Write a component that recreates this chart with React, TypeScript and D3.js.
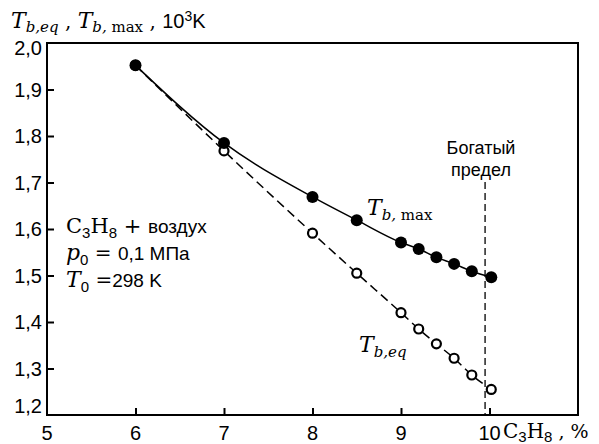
import { useEffect, useRef } from "react";
import * as d3 from "d3";

// data
const xPercent = [6, 7, 8, 8.5, 9, 9.2, 9.4, 9.6, 9.8, 10.02];
const tbMax = [1.952, 1.785, 1.669, 1.619, 1.571, 1.557, 1.539, 1.525, 1.509, 1.496];
const tbEq = [1.952, 1.768, 1.591, 1.505, 1.42, 1.385, 1.353, 1.322, 1.286, 1.255];
const xTicks = [5, 6, 7, 8, 9, 10];
const yTicks = [1.2, 1.3, 1.4, 1.5, 1.6, 1.7, 1.8, 1.9, 2.0];
const richLimit = 9.95;

const W = 599;
const H = 444;

type Part = [string, "s" | "r", "i" | "n", number, number];

function App() {
	const ref = useRef<SVGSVGElement>(null);

	useEffect(() => {
		const svg = d3.select(ref.current);
		svg.selectAll("*").remove();

		const margin = { top: 43, right: 21, bottom: 29, left: 47 };
		const x = d3.scaleLinear().domain([5, 11]).range([margin.left, W - margin.right]);
		const y = d3.scaleLinear().domain([1.2, 2.0]).range([H - margin.bottom, margin.top]);

		const sans = "'Liberation Sans', Arial, sans-serif";
		const serif = "'DejaVu Serif', 'Liberation Serif', serif";

		// frame
		svg
			.append("rect")
			.attr("x", x(5))
			.attr("y", y(2.0))
			.attr("width", x(11) - x(5))
			.attr("height", y(1.2) - y(2.0))
			.attr("fill", "none")
			.attr("stroke", "#000")
			.attr("stroke-width", 2);

		// inward ticks
		const xAxis = d3.axisTop(x).tickValues(xTicks.slice(1)).tickSize(7).tickFormat(() => "");
		svg
			.append("g")
			.attr("transform", `translate(0,${y(1.2)})`)
			.call(xAxis)
			.call((g) => g.select(".domain").remove())
			.selectAll("line")
			.attr("stroke-width", 2);

		const yAxis = d3.axisRight(y).tickValues(yTicks.slice(1, -1)).tickSize(7).tickFormat(() => "");
		svg
			.append("g")
			.attr("transform", `translate(${x(5)},0)`)
			.call(yAxis)
			.call((g) => g.select(".domain").remove())
			.selectAll("line")
			.attr("stroke-width", 2);

		// tick labels
		svg
			.append("g")
			.selectAll("text")
			.data(xTicks)
			.enter()
			.append("text")
			.attr("x", (d) => x(d))
			.attr("y", y(1.2) + 25)
			.attr("text-anchor", "middle")
			.attr("font-family", sans)
			.attr("font-size", 20)
			.text((d) => d);

		svg
			.append("g")
			.selectAll("text")
			.data(yTicks)
			.enter()
			.append("text")
			.attr("x", x(5) - 5)
			.attr("y", (d) => Math.max(55, Math.min(413, y(d) + 7)))
			.attr("text-anchor", "end")
			.attr("font-family", sans)
			.attr("font-size", 20)
			.text((d) => d.toFixed(1).replace(".", ","));

		// rich limit line
		svg
			.append("line")
			.attr("x1", x(richLimit))
			.attr("x2", x(richLimit))
			.attr("y1", 182)
			.attr("y2", y(1.2))
			.attr("stroke", "#000")
			.attr("stroke-width", 1.3)
			.attr("stroke-dasharray", "7,4");

		const rows = xPercent.map((d, i) => ({ x: d, max: tbMax[i], eq: tbEq[i] }));

		const lineEq = d3
			.line<{ x: number; eq: number }>()
			.x((d) => x(d.x))
			.y((d) => y(d.eq))
			.curve(d3.curveMonotoneX);
		const lineMax = d3
			.line<{ x: number; max: number }>()
			.x((d) => x(d.x))
			.y((d) => y(d.max))
			.curve(d3.curveMonotoneX);

		svg
			.append("path")
			.attr("d", lineEq(rows))
			.attr("fill", "none")
			.attr("stroke", "#000")
			.attr("stroke-width", 1.5)
			.attr("stroke-dasharray", "9,5");
		svg
			.append("path")
			.attr("d", lineMax(rows))
			.attr("fill", "none")
			.attr("stroke", "#000")
			.attr("stroke-width", 1.5);

		svg
			.selectAll("circle.eq")
			.data(rows)
			.enter()
			.append("circle")
			.attr("class", "eq")
			.attr("cx", (d) => x(d.x))
			.attr("cy", (d) => y(d.eq))
			.attr("r", 4.5)
			.attr("fill", "#fff")
			.attr("stroke", "#000")
			.attr("stroke-width", 2.2);

		svg
			.selectAll("circle.max")
			.data(rows)
			.enter()
			.append("circle")
			.attr("class", "max")
			.attr("cx", (d) => x(d.x))
			.attr("cy", (d) => y(d.max))
			.attr("r", 6)
			.attr("fill", "#000");

		// texts: [text, family, style, size, dy]
		const addText = (tx: number, ty: number, parts: Part[]) => {
			const t = svg.append("text").attr("x", tx).attr("y", ty);
			parts.forEach(([s, fam, style, size, dy]) => {
				const sp = t
					.append("tspan")
					.attr("font-family", fam === "s" ? sans : serif)
					.attr("font-style", style === "i" ? "italic" : "normal")
					.attr("font-size", size)
					.text(s);
				if (dy) sp.attr("dy", dy);
			});
			return t;
		};

		// axis titles
		addText(11, 28, [
			["T", "r", "i", 22, 0],
			["b,eq", "r", "i", 15, 4],
			[" , ", "r", "n", 20, -4],
			["T", "r", "i", 22, 0],
			["b,", "r", "i", 15, 4],
			[" max", "r", "n", 15, 0],
			[" , ", "r", "n", 20, -4],
			[" 10", "s", "n", 20, 0],
			["3", "s", "n", 14, -7],
			["K", "s", "n", 20, 7],
		]);

		addText(503, 438, [
			["C", "r", "n", 20, 0],
			["3", "s", "n", 15, 4],
			["H", "r", "n", 20, -4],
			["8", "s", "n", 15, 4],
			[" , %", "r", "n", 19, -4],
		]);

		// conditions
		addText(66, 233, [
			["C", "r", "n", 21, 0],
			["3", "s", "n", 15, 5],
			["H", "r", "n", 21, -5],
			["8", "s", "n", 15, 5],
			[" + ", "r", "n", 21, -5],
			["воздух", "s", "n", 19, 0],
		]);
		addText(66, 260, [
			["p", "r", "i", 22, 0],
			["0", "s", "n", 15, 5],
			[" = ", "r", "n", 20, -5],
			["0,1  МПа", "s", "n", 19, 0],
		]);
		addText(66, 287, [
			["T", "r", "i", 22, 0],
			["0", "s", "n", 15, 5],
			[" =", "r", "n", 20, -5],
			["298  K", "s", "n", 19, 0],
		]);

		// curve labels
		addText(367, 215, [
			["T", "r", "i", 22, 0],
			["b,", "r", "i", 15, 5],
			[" max", "r", "n", 15, 0],
		]);
		addText(359, 352, [
			["T", "r", "i", 22, 0],
			["b,eq", "r", "i", 15, 5],
		]);

		svg
			.append("text")
			.attr("x", 481)
			.attr("y", 154)
			.attr("text-anchor", "middle")
			.attr("font-family", sans)
			.attr("font-size", 18)
			.text("Богатый");
		svg
			.append("text")
			.attr("x", 481)
			.attr("y", 176)
			.attr("text-anchor", "middle")
			.attr("font-family", sans)
			.attr("font-size", 18)
			.text("предел");
	}, []);

	return (
		<svg
			ref={ref}
			width={W}
			height={H}
			style={{ position: "absolute", left: 0, top: 0, background: "#fff" }}
		/>
	);
}

export default App;
